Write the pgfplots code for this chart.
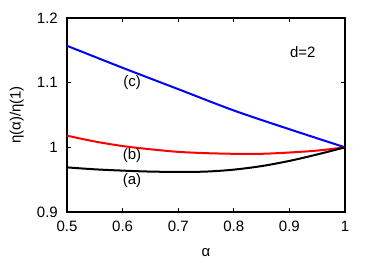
\documentclass[border=0pt]{standalone}
\usepackage{pgfplots}
\pgfplotsset{compat=1.18}
\usepackage{fontspec}
\setmainfont{Liberation Sans}
\begin{document}
\fontsize{15}{17}\selectfont
\begin{tikzpicture}
\begin{axis}[
  scale only axis, width=278pt, height=194pt,
  xmin=0.5, xmax=1, ymin=0.9, ymax=1.2,
  xtick={0.5,0.6,0.7,0.8,0.9,1}, ytick={0.9,1,1.1,1.2},
  xticklabels={0.5,0.6,0.7,0.8,0.9,1},
  yticklabels={0.9,1,1.1,1.2},
  tick align=inside, major tick length=4pt,
  axis line style={line width=1.2pt}, tick style={line width=0.9pt, black},
  xlabel={α}, ylabel={η(α)/η(1)},
  xlabel style={at={(axis description cs:0.5,0)}, anchor=north, yshift=-31pt},
  ylabel style={at={(axis description cs:0,0.5)}, anchor=south, yshift=38pt},
  every tick label/.append style={font=\fontsize{15}{17}\selectfont},
  xticklabel style={yshift=-4pt},
  yticklabel style={xshift=-4pt},
  label style={font=\fontsize{15}{17}\selectfont},
  /pgf/number format/assume math mode=true,
  clip=false,
]
\addplot[blue, line width=2pt, smooth] coordinates {(0.5,1.157)(0.6,1.123)(0.7,1.090)(0.8,1.057)(0.9,1.028)(1,1.0)};
\addplot[red, line width=2pt, smooth] coordinates {(0.5,1.018)(0.55,1.009)(0.6,1.002)(0.65,0.997)(0.7,0.993)(0.75,0.991)(0.8,0.990)(0.85,0.990)(0.9,0.992)(0.95,0.995)(1,1.0)};
\addplot[black, line width=2pt, smooth] coordinates {(0.5,0.969)(0.55,0.966)(0.6,0.964)(0.65,0.9625)(0.7,0.962)(0.75,0.9625)(0.8,0.9655)(0.85,0.971)(0.9,0.979)(0.95,0.989)(1,1.0)};
\node at (axis cs:0.617,1.1) {(c)};
\node at (axis cs:0.617,0.987) {(b)};
\node at (axis cs:0.617,0.948) {(a)};
\node at (axis cs:0.924,1.147) {d=2};
\end{axis}
\path ([shift={(-67pt,-50pt)}]current axis.south west) rectangle ([shift={(29pt,18pt)}]current axis.north east);
\end{tikzpicture}
\end{document}
